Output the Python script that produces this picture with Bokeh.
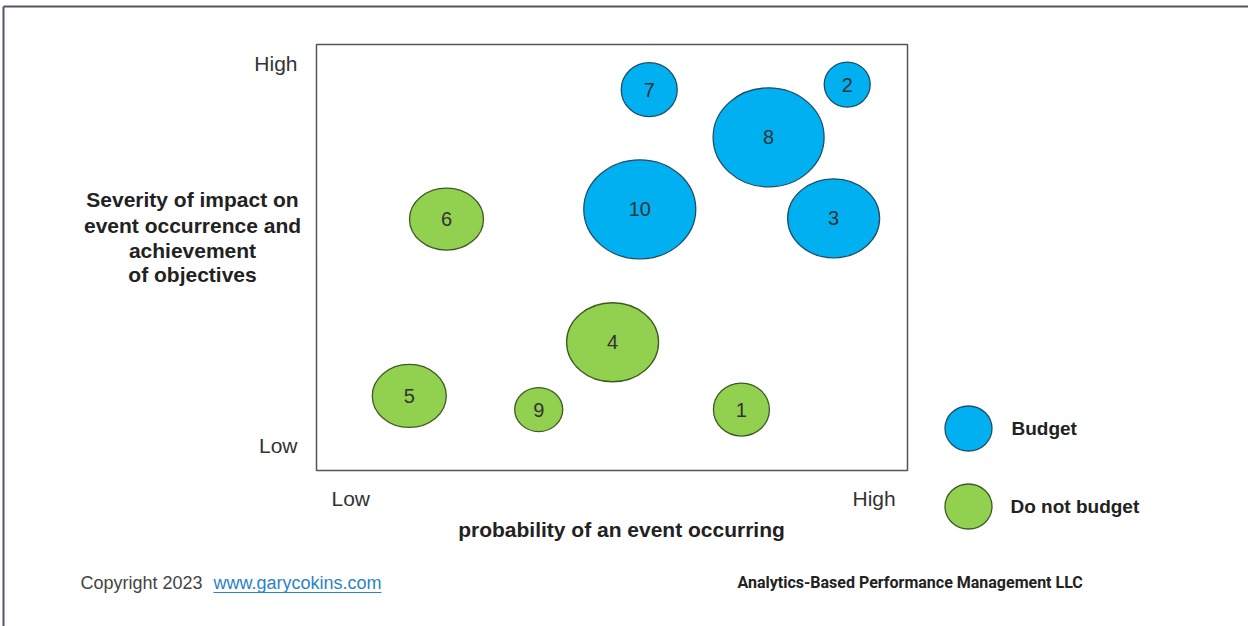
from bokeh.plotting import figure
from bokeh.models import Range1d, ColumnDataSource
from bokeh.core.properties import value
from bokeh.embed import file_html
from bokeh.resources import INLINE

# ---- data (probability 0-100, severity 0-100) ----
risk_ids = ["1", "2", "3", "4", "5", "6", "7", "8", "9", "10"]
probability = [71.9, 89.8, 87.5, 50.1, 15.7, 22.0, 56.3, 76.5, 37.6, 54.7]
severity = [14.3, 90.6, 59.2, 30.1, 17.5, 59.0, 89.4, 78.2, 14.3, 61.3]
bubble_w = [56, 46, 92, 92, 74, 74, 56, 111, 48, 112]
bubble_h = [53, 45, 79, 79, 63, 62, 54, 99, 44, 99]
decision = ["Do not budget", "Budget", "Budget", "Do not budget", "Do not budget",
            "Do not budget", "Budget", "Budget", "Do not budget", "Budget"]
legend_labels = ["Budget", "Do not budget"]
axis_low_high = ["Low", "High"]

W, H = 1248, 626
# plot box in pixels
BX0, BX1, BY0, BY1 = 316, 907, 44, 470

def X(px):
    return (px - BX0) / (BX1 - BX0) * 100.0

def Y(py):
    return (BY1 - py) / (BY1 - BY0) * 100.0

fill = {"Budget": "#00B0F0", "Do not budget": "#92D050"}
edge = {"Budget": "#1F4E66", "Do not budget": "#3E5A24"}
FONT = value("Liberation Sans")

p = figure(width=W, height=H, output_backend="svg", toolbar_location=None,
           x_axis_type=None, y_axis_type=None, min_border=0,
           x_range=Range1d(X(0), X(W)), y_range=Range1d(Y(H), Y(0)))
p.outline_line_color = None
p.grid.visible = False
p.background_fill_color = "white"
p.border_fill_color = "white"

# outer frame lines
p.segment(x0=[X(3), X(3)], y0=[Y(6), Y(6)], x1=[X(W), X(3)], y1=[Y(6), Y(H)],
          line_color="#555566", line_width=2)

# plot box
p.quad(left=[0], right=[100], bottom=[0], top=[100], fill_color=None,
       line_color="#555555", line_width=1.5)

src = ColumnDataSource(dict(
    x=probability, y=severity, w=bubble_w, h=bubble_h, label=risk_ids,
    fc=[fill[d] for d in decision], lc=[edge[d] for d in decision]))
p.ellipse(x="x", y="y", width="w", height="h", width_units="screen",
          height_units="screen", source=src, fill_color="fc", line_color="lc",
          line_width=1.3)
p.text(x="x", y="y", text="label", source=src, text_align="center",
       text_baseline="middle", text_font=FONT,
       text_font_size="20px", text_color="#333333")

# legend
leg_y = [428, 506]
p.ellipse(x=[X(968)] * 2, y=[Y(v) for v in leg_y], width=[47, 47], height=[45, 45],
          width_units="screen", height_units="screen",
          fill_color=[fill[l] for l in legend_labels],
          line_color=[edge[l] for l in legend_labels], line_width=1.3)
p.text(x=[X(1011), X(1010)], y=[Y(v) for v in leg_y], text=legend_labels,
       text_align="left", text_baseline="middle",
       text_font=FONT, text_font_style="bold",
       text_font_size="19px", text_color="#222222")

# axis end labels
p.text(x=[X(297), X(297)], y=[Y(445), Y(63)], text=axis_low_high,
       text_align="right", text_baseline="middle",
       text_font=FONT, text_font_size="21px", text_color="#333333")
p.text(x=[X(331), X(852)], y=[Y(498), Y(498)], text=axis_low_high,
       text_align="left", text_baseline="middle",
       text_font=FONT, text_font_size="21px", text_color="#333333")

# axis titles
ytitle = ["Severity of impact on", "event occurrence and", "achievement", "of objectives"]
p.text(x=[X(192)] * 4, y=[Y(v) for v in [199, 225, 250, 274]], text=ytitle,
       text_align="center", text_baseline="middle",
       text_font=FONT, text_font_style="bold",
       text_font_size="21px", text_color="#222222")
p.text(x=[X(621)], y=[Y(529)], text=["probability of an event occurring"],
       text_align="center", text_baseline="middle",
       text_font=FONT, text_font_style="bold",
       text_font_size="21px", text_color="#222222")

# footer
p.text(x=[X(80)], y=[Y(582)], text=["Copyright 2023"], text_align="left",
       text_baseline="middle", text_font=FONT,
       text_font_size="18px", text_color="#444444")
p.text(x=[X(213)], y=[Y(582)], text=["www.garycokins.com"], text_align="left",
       text_baseline="middle", text_font=FONT,
       text_font_size="18px", text_color="#2B83C6")
p.segment(x0=[X(213)], y0=[Y(592)], x1=[X(381)], y1=[Y(592)],
          line_color="#2B83C6", line_width=1)
p.text(x=[X(737)], y=[Y(582)], text=["Analytics-Based Performance Management  LLC"],
       text_align="left", text_baseline="middle",
       text_font=value("Roboto"), text_font_style="bold",
       text_font_size="16px", text_color="#222222")

open("out.html", "w").write(file_html(p, INLINE))
